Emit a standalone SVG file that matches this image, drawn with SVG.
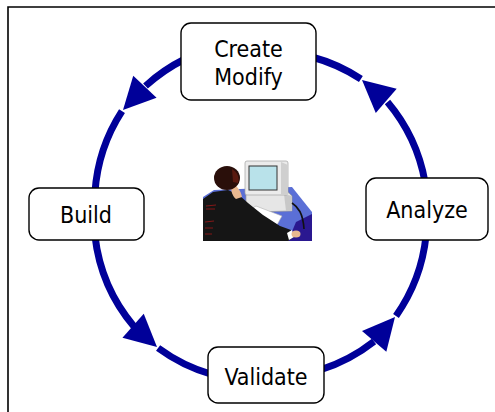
<svg xmlns="http://www.w3.org/2000/svg" xmlns:xlink="http://www.w3.org/1999/xlink" width="495" height="412" viewBox="0 0 495 412">
  <style>
    .frame { stroke: #000; stroke-width: 1.6; fill: none; }
    .flow { stroke: #000099; stroke-width: 7; fill: none; stroke-linecap: butt; }
    .head { fill: #000099; }
    .box { fill: #fff; stroke: #000; stroke-width: 1.4; }
    .label { font-family: "DejaVu Sans Condensed", "DejaVu Sans", sans-serif; font-size: 23px; fill: #000; text-anchor: middle; }
  </style>
  <defs>
    <!-- arrowhead: tip at origin, pointing along +x -->
    <path id="arrowhead" class="head" d="M0,0 L-32,-16 L-32,16 Z"/>
  </defs>

  <rect width="495" height="412" fill="#fff"/>
  <path class="frame" d="M8,412 L8,7 L495,7"/>

  <!-- cycle connectors -->
  <g id="connectors">
    <!-- Create/Modify -> Build -->
    <path class="flow" d="M185,59 A170,170 0 0,0 145.5,86"/>
    <use xlink:href="#arrowhead" href="#arrowhead" transform="translate(123,110) rotate(133.2)"/>
    <path class="flow" d="M122,111.1 A170,170 0 0,0 95,192"/>
    <!-- Build -> Validate -->
    <path class="flow" d="M95,236 A170,170 0 0,0 134,326.5"/>
    <use xlink:href="#arrowhead" href="#arrowhead" transform="translate(157,347) rotate(41.7)"/>
    <path class="flow" d="M158.1,348 A170,170 0 0,0 212,374.5"/>
    <!-- Validate -> Analyze -->
    <path class="flow" d="M320,370 A170,170 0 0,0 374,341.5"/>
    <use xlink:href="#arrowhead" href="#arrowhead" transform="translate(395,317) rotate(-49.4)"/>
    <path class="flow" d="M396,315.9 A170,170 0 0,0 426,236"/>
    <!-- Analyze -> Create/Modify -->
    <path class="flow" d="M425,182 A170,170 0 0,0 387.5,102"/>
    <use xlink:href="#arrowhead" href="#arrowhead" transform="translate(362,80) rotate(-139.2)"/>
    <path class="flow" d="M360.9,79 A170,170 0 0,0 312,57"/>
  </g>

  <g id="create-modify">
    <rect class="box" x="181" y="23" width="135" height="77" rx="10"/>
    <text class="label" x="248.5" y="57">Create</text>
    <text class="label" x="248.5" y="85">Modify</text>
  </g>

  <g id="build">
    <rect class="box" x="29" y="188" width="115" height="52" rx="10"/>
    <text class="label" x="86" y="223">Build</text>
  </g>

  <g id="analyze">
    <rect class="box" x="366" y="178" width="122" height="62" rx="10"/>
    <text class="label" x="427" y="218">Analyze</text>
  </g>

  <g id="validate">
    <rect class="box" x="208" y="347" width="116" height="56" rx="10"/>
    <text class="label" x="266" y="385">Validate</text>
  </g>

  <!-- person working at a computer -->
  <g id="workstation">
    <!-- desk top -->
    <polygon points="203,197 214,190 292,187 312,212 312,241 203,241" fill="#5b6fd6"/>
    <!-- mouse pad -->
    <polygon points="296,222 312,214 312,241 288,241" fill="#2a1890"/>
    <!-- system unit -->
    <polygon points="246,194 288,192 292,196 292,211 248,212 246,208" fill="#e6e6e6" stroke="#9a9a9a" stroke-width="0.7"/>
    <polygon points="284,194 292,196 292,211 286,211" fill="#c8c8c8"/>
    <!-- monitor -->
    <rect x="245" y="161" width="43" height="34" rx="2" fill="#ebebeb" stroke="#a0a0a0" stroke-width="0.7"/>
    <polygon points="281,162 288,165 288,195 281,195" fill="#cfcfcf"/>
    <rect x="249" y="166" width="28" height="24" fill="#b9e2ea" stroke="#333" stroke-width="1"/>
    <!-- keyboard -->
    <polygon points="245,213 256,206 282,216 277,225" fill="#fff" stroke="#b0b0b0" stroke-width="0.6"/>
    <!-- mouse cable -->
    <path d="M292,203 C298,207 303,213 304,229" fill="none" stroke="#111" stroke-width="1.6"/>
    <!-- body -->
    <polygon points="203,199 213,192 228,190 239,195 248,203 263,215 280,226 291,230 294,237 288,241 203,241" fill="#151515"/>
    <!-- back highlights -->
    <g stroke="#a01818" stroke-width="0.8">
      <line x1="206" y1="206" x2="216" y2="205"/>
      <line x1="206" y1="209" x2="215" y2="209"/>
      <line x1="205" y1="222" x2="214" y2="221"/>
      <line x1="205" y1="228" x2="213" y2="228"/>
      <line x1="205" y1="234" x2="212" y2="234"/>
    </g>
    <!-- shirt cuff and hand -->
    <polygon points="287,233 292,230 294,237 289,240" fill="#fff"/>
    <ellipse cx="296" cy="234" rx="4.5" ry="3.5" fill="#e8b890"/>
    <!-- head -->
    <path d="M233,182 C236,186 241,190 242,197 L236,199 C232,196 231,190 231,186 Z" fill="#e8b890"/>
    <ellipse cx="227" cy="178" rx="13" ry="12" fill="#2a0f0a"/>
    <path d="M232,169 C237,172 240,177 238,183 L233,182 Z" fill="#5a1a10"/>
  </g>
</svg>
